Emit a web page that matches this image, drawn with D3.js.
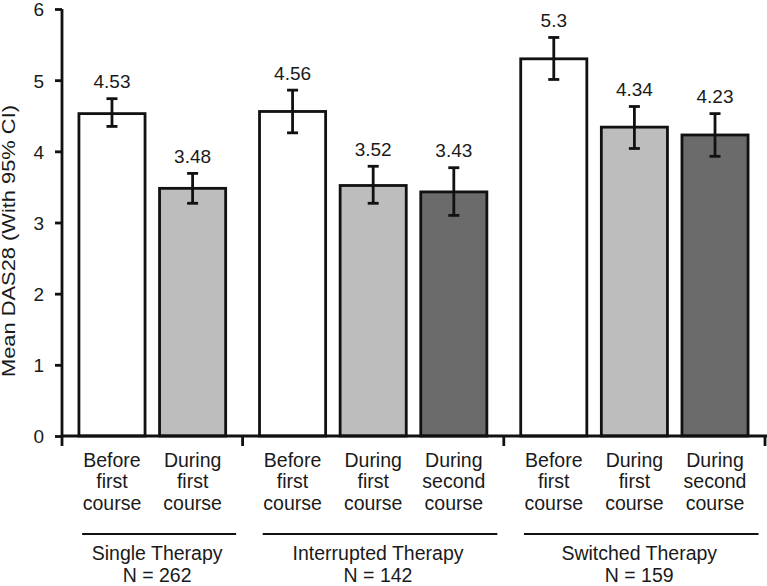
<!DOCTYPE html>
<html>
<head>
<meta charset="utf-8">
<script src="https://cdn.jsdelivr.net/npm/d3@7"></script>
<style>
  body { margin: 0; background: #fff; }
  svg text { font-family: "Liberation Sans", Arial, sans-serif; fill: #1a1a1a; }
</style>
</head>
<body>
<div id="svg"></div>
<script>
// chart data
const groupNames = ["Single Therapy", "Interrupted Therapy", "Switched Therapy"];
const groupCounts = ["N = 262", "N = 142", "N = 159"];
const groupSizes = [2, 3, 3];
const categoryLines = [
    ["Before", "first", "course"], ["During", "first", "course"],
    ["Before", "first", "course"], ["During", "first", "course"], ["During", "second", "course"],
    ["Before", "first", "course"], ["During", "first", "course"], ["During", "second", "course"]
];
const means = [4.53, 3.48, 4.56, 3.52, 3.43, 5.3, 4.34, 4.23];
const meanLabels = ["4.53", "3.48", "4.56", "3.52", "3.43", "5.3", "4.34", "4.23"];
const ciLow = [4.35, 3.27, 4.26, 3.27, 3.10, 5.01, 4.04, 3.93];
const ciHigh = [4.74, 3.69, 4.86, 3.79, 3.77, 5.60, 4.63, 4.53];
const yTicks = [0, 1, 2, 3, 4, 5, 6];

window.onload = function() {
    const width = 767;
    const height = 586;
    const fills = ['#ffffff', '#bdbdbd', '#6b6b6b'];
    const pad = 0.62;     // in category units, group edge to first bar centre
    const barW = 0.82;

    // work out positions in "category units"
    let bars = [];
    let groupStarts = [];
    let pos = 0;
    let k = 0;
    groupSizes.forEach((n, g) => {
        groupStarts.push(pos);
        for (let i = 0; i < n; i++) {
            bars.push({
                center: pos + pad + i,
                slot: i,
                group: g,
                mean: means[k],
                label: meanLabels[k],
                lo: ciLow[k],
                hi: ciHigh[k],
                lines: categoryLines[k]
            });
            k++;
        }
        pos += (n - 1) + 2 * pad;
    });
    groupStarts.push(pos);

    const xScale = d3.scaleLinear()
                        .domain([0, pos])
                        .range([62, 765]);

    const yScale = d3.scaleLinear()
                        .domain([0, 6])
                        .range([436, 9]);

    let svg = d3.select('#svg')
                    .append('svg')
                        .attr('width', width)
                        .attr('height', height);

    // bars
    svg.selectAll('rect.bar')
        .data(bars)
        .enter()
            .append('rect')
                .attr('class', 'bar')
                .attr('x', (d) => xScale(d.center - barW / 2))
                .attr('y', (d) => yScale(d.mean))
                .attr('width', (d) => xScale(d.center + barW / 2) - xScale(d.center - barW / 2))
                .attr('height', (d) => yScale(0) - yScale(d.mean))
                .attr('fill', (d) => fills[d.slot])
                .attr('stroke', '#111')
                .attr('stroke-width', 2.8);

    // error bars
    let err = svg.selectAll('g.err')
        .data(bars)
        .enter()
            .append('g')
                .attr('class', 'err')
                .attr('stroke', '#111')
                .attr('stroke-width', 2.8);

    err.append('line')
        .attr('x1', (d) => xScale(d.center))
        .attr('x2', (d) => xScale(d.center))
        .attr('y1', (d) => yScale(d.lo))
        .attr('y2', (d) => yScale(d.hi));
    err.append('line')
        .attr('x1', (d) => xScale(d.center) - 5.5)
        .attr('x2', (d) => xScale(d.center) + 5.5)
        .attr('y1', (d) => yScale(d.hi))
        .attr('y2', (d) => yScale(d.hi));
    err.append('line')
        .attr('x1', (d) => xScale(d.center) - 5.5)
        .attr('x2', (d) => xScale(d.center) + 5.5)
        .attr('y1', (d) => yScale(d.lo))
        .attr('y2', (d) => yScale(d.lo));

    // value labels
    svg.selectAll('text.val')
        .data(bars)
        .enter()
            .append('text')
                .attr('class', 'val')
                .attr('x', (d) => xScale(d.center))
                .attr('y', (d) => yScale(d.hi) - 10.5)
                .attr('text-anchor', 'middle')
                .style('font-size', '19px')
                .text((d) => d.label);

    // y-axis
    let yAxis = svg.append('g')
        .attr('transform', `translate(${xScale(0)}, 0)`)
        .call(d3.axisLeft(yScale).tickValues(yTicks).tickSize(7).tickPadding(11).tickFormat(d3.format('d')));
    yAxis.select('.domain')
        .attr('d', `M0,${yScale(6)}V${yScale(0)}`)
        .attr('stroke', '#111')
        .attr('stroke-width', 2.8);
    yAxis.selectAll('.tick line').attr('stroke', '#111').attr('stroke-width', 2.8);
    yAxis.selectAll('.tick text')
        .style('font-size', '19px')
        .style('font-family', '"Liberation Sans", Arial, sans-serif')
        .attr('fill', '#1a1a1a')
        .attr('dy', '0.36em');

    svg.append('text')
        .attr('text-anchor', 'middle')
        .attr('transform', 'translate(14.5, 241) rotate(-90)')
        .attr('textLength', 272)
        .attr('lengthAdjust', 'spacingAndGlyphs')
        .style('font-size', '17.5px')
        .text('Mean DAS28 (With 95% CI)');

    // x-axis line and group separators
    svg.append('line')
        .attr('x1', xScale(0))
        .attr('x2', width)
        .attr('y1', yScale(0))
        .attr('y2', yScale(0))
        .attr('stroke', '#111')
        .attr('stroke-width', 2.8);

    svg.selectAll('line.sep')
        .data(groupStarts)
        .enter()
            .append('line')
                .attr('class', 'sep')
                .attr('x1', (d) => xScale(d))
                .attr('x2', (d) => xScale(d))
                .attr('y1', yScale(0))
                .attr('y2', yScale(0) + 10)
                .attr('stroke', '#111')
                .attr('stroke-width', 2.8);

    // category labels
    let cat = svg.selectAll('text.cat')
        .data(bars)
        .enter()
            .append('text')
                .attr('class', 'cat')
                .attr('text-anchor', 'middle')
                .style('font-size', '19.5px');
    cat.selectAll('tspan')
        .data((d) => d.lines.map((t) => ({t: t, x: xScale(d.center)})))
        .enter()
            .append('tspan')
                .attr('x', (d) => d.x)
                .attr('y', (d, i) => 466.5 + i * 21.5)
                .text((d) => d.t);

    // group underline and names
    const groupData = groupNames.map((name, g) => ({
        name: name,
        n: groupCounts[g],
        start: groupStarts[g],
        end: groupStarts[g + 1]
    }));

    svg.selectAll('line.grp')
        .data(groupData)
        .enter()
            .append('line')
                .attr('class', 'grp')
                .attr('x1', (d) => xScale(d.start + 0.25))
                .attr('x2', (d) => xScale(d.end - 0.08))
                .attr('y1', 534)
                .attr('y2', 534)
                .attr('stroke', '#111')
                .attr('stroke-width', 2.2);

    svg.selectAll('text.grpname')
        .data(groupData)
        .enter()
            .append('text')
                .attr('class', 'grpname')
                .attr('x', (d) => (xScale(d.start + 0.25) + xScale(d.end - 0.08)) / 2 - 2)
                .attr('y', 560)
                .attr('text-anchor', 'middle')
                .style('font-size', '19.5px')
                .text((d) => d.name);

    svg.selectAll('text.grpn')
        .data(groupData)
        .enter()
            .append('text')
                .attr('class', 'grpn')
                .attr('x', (d) => (xScale(d.start + 0.25) + xScale(d.end - 0.08)) / 2 - 2)
                .attr('y', 582)
                .attr('text-anchor', 'middle')
                .style('font-size', '19.5px')
                .text((d) => d.n);
};
</script>
</body>
</html>
